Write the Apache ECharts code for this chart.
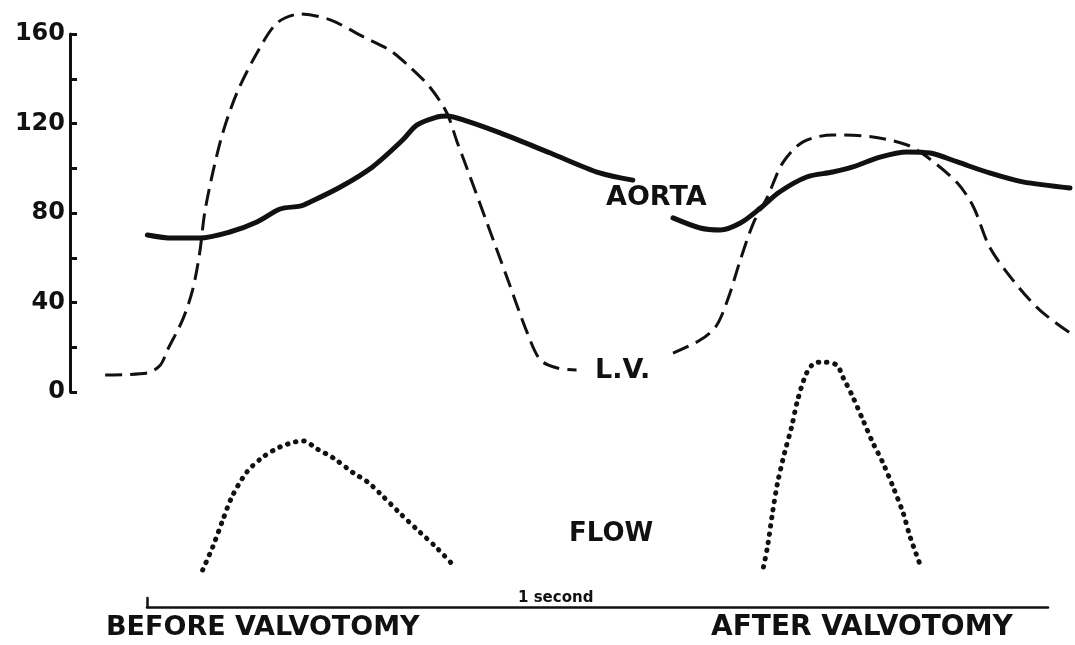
<!DOCTYPE html>
<html lang="en">
<head>
    <meta charset="UTF-8" />
    <title>Valvotomy pressures</title>
    <script src="https://cdn.jsdelivr.net/npm/echarts@6.0.0/dist/echarts.min.js"></script>
    <style>
        html, body { margin: 0; padding: 0; background: #fff; }
        #main { width: 1075px; height: 645px; }
    </style>
</head>
<body>
    <div id="main"></div>

    <script type="text/javascript">
        // time runs 0..100 (arbitrary units) across the page, pressure in mmHg, flow in arbitrary units
        const pressureTicks = [0, 40, 80, 120, 160];

        const lvBefore = [[3.5, 7.6], [7.7, 8.5], [9.0, 12.1], [9.7, 18.8], [11.2, 32.2], [12.2, 45.6],
            [12.9, 62.1], [13.4, 80.0], [14.2, 97.9], [15.2, 115.8], [16.6, 133.6], [18.6, 151.5],
            [20.6, 164.9], [22.9, 168.9], [25.9, 166.3], [29.2, 158.7], [31.8, 152.8], [33.8, 145.3],
            [35.8, 136.3], [37.5, 124.7], [38.5, 112.0], [39.5, 100.0], [41.5, 75.5], [43.5, 51.0],
            [45.5, 26.4], [46.8, 14.3], [48.5, 10.7], [50.4, 9.8]];
        const lvAfter = [[60.0, 17.4], [62.7, 23.2], [64.3, 29.5], [65.5, 42.0], [66.7, 59.0],
            [68.0, 75.5], [69.4, 87.2], [70.9, 102.3], [72.9, 111.7], [75.9, 114.9], [79.9, 114.0],
            [83.3, 110.4], [85.3, 105.0], [88.3, 93.4], [89.9, 82.7], [91.5, 64.8], [93.8, 50.1],
            [96.5, 36.6], [99.5, 26.4]];

        const aortaBefore = [[7.7, 70.2], [10.2, 68.8], [12.9, 68.8], [15.9, 71.5], [18.6, 76.0],
            [20.9, 81.8], [22.9, 83.1], [23.9, 84.9], [26.9, 91.6], [30.1, 100.6], [33.1, 112.6],
            [34.5, 119.3], [36.5, 122.9], [37.5, 123.4], [39.5, 121.1], [42.8, 115.8], [47.8, 106.8],
            [52.7, 97.9], [56.0, 94.7]];
        const aortaAfter = [[60.0, 77.8], [62.7, 73.3], [64.7, 72.4], [66.7, 75.5], [68.7, 82.2],
            [70.6, 89.4], [73.3, 96.1], [75.9, 98.3], [77.9, 100.6], [80.6, 105.0], [83.3, 107.3],
            [85.6, 106.8], [88.3, 102.8], [91.5, 97.9], [94.8, 93.9], [99.5, 91.2]];

        const flowBefore = [[13.2, 0], [14.2, 10], [15.2, 21.7], [16.1, 31.7], [17.6, 42.6], [19.2, 49.1],
            [20.9, 53.5], [22.4, 55.7], [23.2, 56.1], [24.6, 52.6], [26.2, 48.7], [28.2, 42.2],
            [29.6, 38.3], [30.8, 33.5], [32.8, 24.8], [34.8, 16.5], [36.5, 9.6], [38.3, 1.3]];
        const flowAfter = [[69.0, 1.3], [69.4, 10], [69.9, 24.8], [70.4, 37.8], [71.1, 50.9], [71.8, 62.2],
            [72.4, 73.9], [73.3, 85.7], [74.1, 90.0], [74.9, 90.4], [76.3, 89.1], [76.9, 83.9],
            [77.9, 75.2], [78.9, 65.2], [79.9, 55.2], [80.9, 46.5], [81.9, 36.1], [82.9, 24.8],
            [83.6, 14.3], [84.6, 2.2]];

        const ink = '#111';
        const labelFont = 'DejaVu Sans';

        function pressureLine(data, dashed) {
            return {
                type: 'line', xAxisIndex: 0, yAxisIndex: 0, data: data,
                showSymbol: false, smooth: 0.3, silent: true, clip: false,
                lineStyle: dashed
                    ? { color: ink, width: 3, type: [17, 8] }
                    : { color: ink, width: 5, cap: 'round' }
            };
        }

        function flowLine(data) {
            return {
                type: 'line', xAxisIndex: 1, yAxisIndex: 1, data: data,
                showSymbol: false, smooth: 0.3, silent: true, clip: false,
                lineStyle: { color: ink, width: 5, type: [0.5, 7.8], cap: 'round' }
            };
        }

        function text(str, x, y, size) {
            return {
                type: 'text', left: x, top: y,
                style: { text: str, fill: ink, font: 'bold ' + size + 'px "' + labelFont + '"' }
            };
        }

        let options = {
            backgroundColor: '#fff',
            animation: false,
            grid: [
                { left: 70, right: 0, top: 34, height: 358 },   // pressure
                { left: 70, right: 0, top: 340, height: 230 },  // flow
                { left: 147, right: 27, top: 598, height: 9 }   // time bar
            ],
            xAxis: [
                { type: 'value', gridIndex: 0, min: 0, max: 100, show: false },
                { type: 'value', gridIndex: 1, min: 0, max: 100, show: false },
                {
                    type: 'value', gridIndex: 2, min: 0, max: 1,
                    axisLine: { show: true, lineStyle: { color: ink, width: 2.5 } },
                    axisTick: { show: false }, axisLabel: { show: false }, splitLine: { show: false }
                }
            ],
            yAxis: [
                {
                    type: 'value', gridIndex: 0, min: 0, max: 160, interval: 20,
                    axisLine: { show: true, lineStyle: { color: ink, width: 3 } },
                    axisTick: { show: true, inside: true, length: 7, lineStyle: { color: ink, width: 3 } },
                    splitLine: { show: false },
                    axisLabel: {
                        color: ink, fontSize: 24, fontWeight: 'bold', fontFamily: labelFont, margin: 5,
                        formatter: (v) => pressureTicks.includes(v) ? String(v) : ''
                    }
                },
                { type: 'value', gridIndex: 1, min: 0, max: 100, show: false },
                {
                    type: 'value', gridIndex: 2, min: 0, max: 1,
                    axisLine: { show: true, lineStyle: { color: ink, width: 2.5 } },
                    axisTick: { show: false }, axisLabel: { show: false }, splitLine: { show: false }
                }
            ],
            graphic: [
                text('AORTA', 606, 184, 27),
                text('L.V.', 595, 357, 27),
                text('FLOW', 569, 521, 26),
                text('1 second', 518, 591, 15),
                text('BEFORE VALVOTOMY', 106, 614, 27),
                text('AFTER VALVOTOMY', 711, 614, 28)
            ],
            series: [
                pressureLine(lvBefore, true),
                pressureLine(lvAfter, true),
                pressureLine(aortaBefore, false),
                pressureLine(aortaAfter, false),
                flowLine(flowBefore),
                flowLine(flowAfter)
            ]
        };

        let myChart = echarts.init(document.getElementById("main"));
        myChart.setOption(options);
    </script>
</body>
</html>
